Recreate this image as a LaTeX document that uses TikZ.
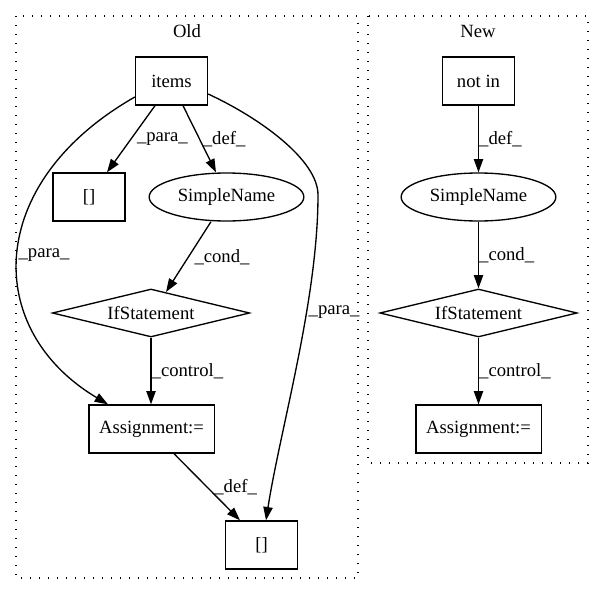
\documentclass[tikz,border=0pt]{standalone}
\usepackage{fontspec}
\setmainfont{Liberation Serif}
\usepackage{tikz}
\usetikzlibrary{arrows.meta,shapes.geometric}

\tikzset{
  box/.style={draw, line width=1pt, rectangle, inner sep=0pt, minimum width=54pt, minimum height=36pt},
  oval/.style={draw, line width=1pt, ellipse, inner sep=0pt, minimum width=116pt, minimum height=36pt},
  cond/.style={draw, line width=1pt, diamond, aspect=4, inner sep=0pt, minimum width=148pt, minimum height=36pt},
  cluster/.style={line width=1pt, dash pattern=on 1pt off 5.75pt},
  edge/.style={line width=1pt, -{Triangle[length=10pt,width=7pt]}},
  lbl/.style={anchor=west, inner sep=0pt}
}

\begin{document}
\begin{tikzpicture}[x=0.75pt, y=-0.75pt, font=\fontsize{14}{16}\selectfont]
\useasboundingbox (0,0) rectangle (604,596);
\draw[cluster] (16,16) rectangle (358,578);
\draw[cluster] (368,16) rectangle (588,463);
\node (oldtitle) at (187,31) {Old};
\node (newtitle) at (478,31) {New};

\node[box] (items) at (171.5,81) {items};
\node[box] (idxa) at (89,197) {[]};
\node[oval] (nameold) at (226.5,197) {SimpleName};
\node[cond] (ifold) at (151,313) {IfStatement};
\node[box, minimum width=94pt] (assignold) at (151.5,429) {Assignment:=};
\node[box] (idxb) at (261.5,545) {[]};

\node[box] (notin) at (478.5,81) {not in};
\node[oval] (namenew) at (478.5,197) {SimpleName};
\node[cond] (ifnew) at (478.5,313) {IfStatement};
\node[box, minimum width=94pt] (assignnew) at (478.5,429) {Assignment:=};

\draw[edge] (items.south west -| 155,0) -- (idxa.north east -| 107,0) node[lbl, midway, xshift=4pt] {\_para\_};
\draw[edge] (items.south west -| 183,0) -- (nameold.north -| 216,0) node[lbl, midway, xshift=2pt] {\_def\_};
\draw[edge] (items.west |- 0,97) .. controls (-16,183) and (-17,330) .. (assignold.north west -| 108,0) node[lbl, pos=0.5] {\_para\_};
\draw[edge] (items.east |- 0,94) .. controls (260,118) and (318,160) .. (318,195) .. controls (318,300) and (280,430) .. (idxb.north -| 266,0) node[lbl, pos=0.35, xshift=1pt] {\_para\_};
\draw[edge] (nameold.south -| 211,0) -- (166,292) node[lbl, midway, xshift=4pt] {\_cond\_};
\draw[edge] (ifold.south) -- (assignold.north -| ifold.south) node[lbl, midway] {\_control\_};
\draw[edge] (assignold.south -| 174,0) -- (idxb.north -| 240,0) node[lbl, midway, xshift=5pt] {\_def\_};

\draw[edge] (notin) -- (namenew) node[lbl, midway] {\_def\_};
\draw[edge] (namenew) -- (ifnew) node[lbl, midway] {\_cond\_};
\draw[edge] (ifnew) -- (assignnew) node[lbl, midway] {\_control\_};
\end{tikzpicture}
\end{document}
